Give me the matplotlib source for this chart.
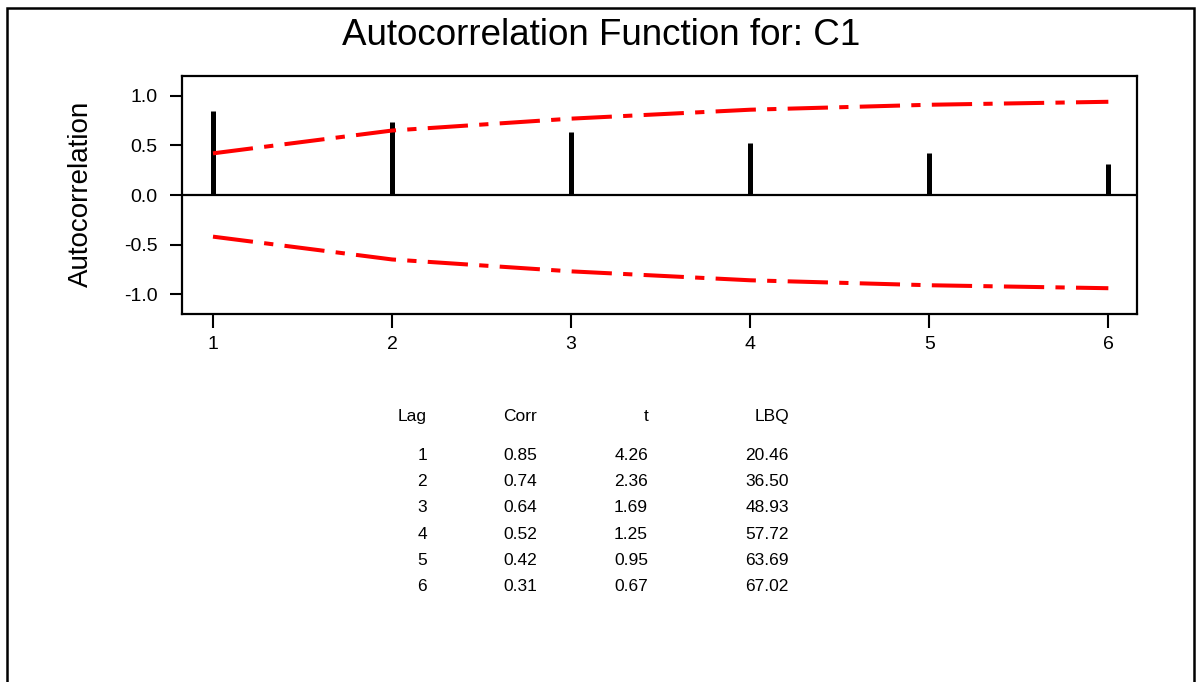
import matplotlib
matplotlib.use("Agg")
import matplotlib.pyplot as plt
from matplotlib.lines import Line2D

plt.rcParams['font.family'] = ['Liberation Sans', 'DejaVu Sans']

# ---- data ----
lags = [1, 2, 3, 4, 5, 6]
corr = [0.85, 0.74, 0.64, 0.52, 0.42, 0.31]
tvals = [4.26, 2.36, 1.69, 1.25, 0.95, 0.67]
lbq = [20.46, 36.50, 48.93, 57.72, 63.69, 67.02]
conf_limit = [0.42, 0.65, 0.77, 0.86, 0.91, 0.94]
yticks = [-1.0, -0.5, 0.0, 0.5, 1.0]
title = "Autocorrelation Function for: C1"
ylabel = "Autocorrelation"
table_headers = ["Lag", "Corr", "t", "LBQ"]

W, H = 1202, 682
fig = plt.figure(figsize=(W / 100, H / 100), dpi=100)


def fx(x):
    return x / W


def fy(y):
    return 1 - y / H


# outer frame (left, top, right)
fig.add_artist(Line2D([fx(7), fx(7), fx(1194), fx(1194)],
                      [fy(690), fy(8), fy(8), fy(690)],
                      transform=fig.transFigure, color='black', lw=1.8,
                      solid_joinstyle='miter'))

ax = fig.add_axes([fx(182), fy(314), fx(1137) - fx(182), fy(76) - fy(314)])
ax.set_xlim(0.827, 6.16)
ax.set_ylim(-1.2, 1.2)

# zero line
ax.axhline(0, color='black', lw=1.6, zorder=2)

# bars
ax.vlines(lags, 0, corr, colors='black', lw=3.6, capstyle='butt', zorder=3)

# confidence limits
upper = conf_limit
lower = [-v for v in conf_limit]
for series in (upper, lower):
    ln, = ax.plot(lags, series, color='#ff0000', lw=2.9, solid_capstyle='butt',
                  dash_capstyle='butt', zorder=4)
    ln.set_dashes([10, 2.8, 2.3, 2.8])

ax.set_xticks(lags)
ax.set_xticklabels([str(l) for l in lags])
ax.set_yticks(yticks)
ax.set_yticklabels([f"{v:.1f}" for v in yticks])
ax.tick_params(axis='both', direction='out', width=1.5, color='black',
               labelsize=14)
ax.tick_params(axis='y', length=8.5, pad=9)
ax.tick_params(axis='x', length=10, pad=6)
for s in ax.spines.values():
    s.set_linewidth(1.6)
    s.set_color('black')

# title and y label
fig.text(fx(601), fy(45), title, ha='center', va='baseline', fontsize=26.5)
fig.text(fx(81), fy(194), ylabel, ha='center', va='center', rotation=90,
         fontsize=20)

# statistics table
col_right = [427, 537, 648, 789]
header_base = 421
row_base = [460, 486, 512.5, 539, 565, 591]
tfs = 12.5
for x, h in zip(col_right, table_headers):
    fig.text(fx(x), fy(header_base), h, ha='right', va='baseline', fontsize=tfs)
for i in range(len(lags)):
    vals = [str(lags[i]), f"{corr[i]:.2f}", f"{tvals[i]:.2f}", f"{lbq[i]:.2f}"]
    for x, v in zip(col_right, vals):
        fig.text(fx(x), fy(row_base[i]), v, ha='right', va='baseline',
                 fontsize=tfs)

fig.savefig("out.png", dpi=100)
